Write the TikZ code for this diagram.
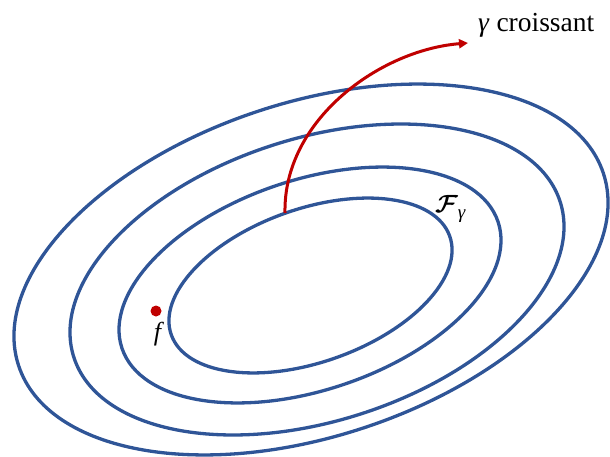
\documentclass[tikz,border=0pt]{standalone}
\usepackage{amsmath,bm}
\usepackage{fontspec}
\setmainfont{Liberation Serif}
\usetikzlibrary{arrows.meta}
\definecolor{ringblue}{HTML}{2F5597}
\definecolor{arcred}{HTML}{C00000}
\tikzset{
  ring/.style={draw=ringblue, line width=3.3pt},
  redarc/.style={draw=arcred, line width=3pt, -{Triangle[length=9pt,width=9pt]}},
  lbl/.style={inner sep=0pt, font=\fontsize{27.5}{30}\selectfont},
}
\begin{document}
\begin{tikzpicture}[x=1pt,y=1pt]
\useasboundingbox (0,0) rectangle (610,456);
\draw[ring, rotate around={19.5:(310.5,170.5)}] (310.5,170.5) ellipse [x radius=147.7pt, y radius=76.6pt];
\draw[ring, rotate around={18.6:(310,171)}] (310,171) ellipse [x radius=198.4pt, y radius=105pt];
\draw[ring, rotate around={17.7:(317,176.5)}] (317,176.5) ellipse [x radius=255.3pt, y radius=141.4pt];
\draw[ring, rotate around={18.2:(311,186.5)}] (311,186.5) ellipse [x radius=307.8pt, y radius=166.9pt];
\coordinate (arcstart) at (285,243);
\coordinate (arcend) at (468,413);
\draw[redarc] (arcstart) .. controls (283,336) and (380,406) .. (arcend);
\node[lbl, anchor=base west] (title) at (478,424) {\textit{γ} croissant};
\node[lbl, font=\fontsize{24}{26}\selectfont, anchor=base west] (fg) at (435,244) {$\bm{\mathcal{F}}$\raisebox{-6pt}{\fontsize{19}{20}\selectfont\textit{γ}}};
\node[circle, fill=arcred, inner sep=0pt, minimum size=11pt] (fdot) at (156,145) {};
\node[lbl, font=\fontsize{26}{28}\selectfont] (flbl) at (159,122) {\textit{f}};
\end{tikzpicture}
\end{document}
